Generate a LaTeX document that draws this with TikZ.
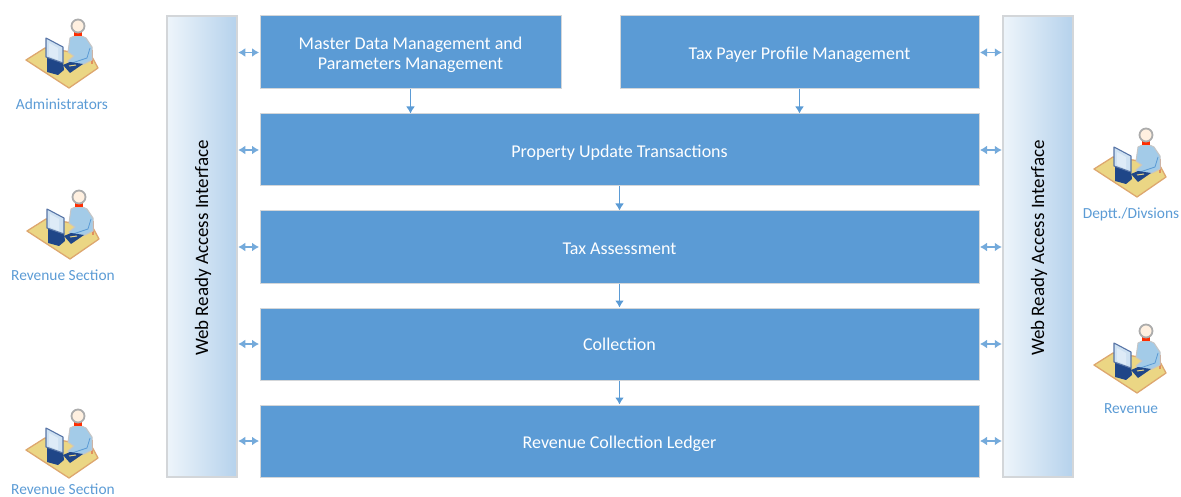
\documentclass[tikz,border=0pt]{standalone}
\usepackage{fontspec}
\setmainfont{Carlito}
\usetikzlibrary{arrows.meta,calc}
\definecolor{boxblue}{HTML}{5B9BD5}
\definecolor{edgegrey}{HTML}{D3D6D9}
\definecolor{darkmon}{HTML}{1F4688}
\definecolor{desktop}{HTML}{EBD684}
\definecolor{deskrim}{HTML}{DDA76F}
\definecolor{shirt}{HTML}{A3CBE8}
\tikzset{
  x=1pt,y=-1pt,
  modbox/.style={fill=boxblue,draw=edgegrey,line width=1pt,inner sep=0pt,text=white,align=center,font=\fontsize{18}{22.5}\selectfont},
  sidepanel/.style={draw=edgegrey,line width=1.5pt,left color=white!85!boxblue!70,right color=boxblue!45,shading angle=90,inner sep=0pt},
  sidetext/.style={rotate=90,font=\fontsize{19}{22}\selectfont,text=black,inner sep=0pt},
  who/.style={text=boxblue,font=\fontsize{15.4}{18}\selectfont,inner sep=0pt},
  both/.style={{Latex[length=7pt,width=9pt]}-{Latex[length=7pt,width=9pt]},draw=boxblue!85!white,line width=1.5pt,shorten >=0.5pt,shorten <=0.5pt},
  down/.style={-{Latex[length=7pt,width=9pt]},draw=boxblue,line width=1.5pt},
  operator/.pic={
    % desk
    \fill[fill=desktop,draw=deskrim,line width=1.3pt,line join=round] (-52,34) -- (-33,22) -- (13,29) -- (20,42) -- (-9,62) -- cycle;
    % chair
    \draw[deskrim!85!red,line width=1.5pt] (14,24) -- (14,38);
    % body
    \fill[fill=shirt,draw=gray!45,line width=1pt,line join=round] (-8,12) .. controls (-4,9) and (4,9) .. (8,12) -- (14,21) -- (14,34) -- (6,38) -- (-6,40) -- (-10,35) -- (-4,30) -- (-10,26) -- cycle;
    \draw[boxblue,line width=.8pt] (12,22) -- (9,32) -- (-6,37);
    % keyboard
    \fill[fill=darkmon,line join=round] (-15,39) -- (-8,36) -- (5,38) -- (-8,47) -- cycle;
    \draw[desktop,line width=1pt] (-9,40) -- (-2,39);
    % monitor
    \fill[fill=darkmon] (-31,30) -- (-15,35) -- (-14,44) -- (-20,49) -- (-31,46) -- cycle;
    \fill[fill=boxblue!30!white,draw=darkmon!75,line width=1.1pt,line join=round] (-32,12) -- (-15,21) -- (-15,37) -- (-32,31) -- cycle;
    \fill[white!80!boxblue] (-29,17) -- (-20,22) -- (-20,34) -- (-29,30) -- cycle;
    % head
    \fill[fill=red!65!orange] (-4,5) rectangle (4,10);
    \fill[fill=white!88!orange,draw=gray!65,line width=1.8pt] (0,0) circle (6.5);
  }
}
\newcommand{\lowered}[2]{\raisebox{-#1pt}[\height][\depth]{#2}}
\begin{document}
\begin{tikzpicture}
\useasboundingbox (0,0) rectangle (1181,497);
\clip (0,0) rectangle (1181,497);

\node[sidepanel,minimum width=70pt,minimum height=461pt] (sl) at (202,246.5) {};
\node[sidepanel,minimum width=70pt,minimum height=461pt] (sr) at (1038,246.5) {};
\node[sidetext] (slt) at (203,248) {Web Ready Access Interface};
\node[sidetext] (srt) at (1039,248) {Web Ready Access Interface};

\node[modbox,minimum width=301pt,minimum height=73pt] (master) at (410.5,52.5) {\lowered{2}{\shortstack{Master Data Management and\\[2pt]Parameters Management}}};
\node[modbox,minimum width=359pt,minimum height=73pt] (payer) at (799.5,52.5) {\lowered{2}{Tax Payer Profile Management}};
\node[modbox,minimum width=719pt,minimum height=72pt] (prop) at (619.5,150) {\lowered{2.5}{Property Update Transactions}};
\node[modbox,minimum width=719pt,minimum height=72pt] (tax) at (619.5,247) {\lowered{1.5}{Tax Assessment}};
\node[modbox,minimum width=719pt,minimum height=72pt] (coll) at (619.5,344) {Collection};
\node[modbox,minimum width=719pt,minimum height=72pt] (ledg) at (619.5,441) {\lowered{3}{Revenue Collection Ledger}};

\draw[both] (master.west -| sl.east) -- (master.west);
\draw[both] (prop.west -| sl.east) -- (prop.west);
\draw[both] (tax.west -| sl.east) -- (tax.west);
\draw[both] (coll.west -| sl.east) -- (coll.west);
\draw[both] (ledg.west -| sl.east) -- (ledg.west);
\draw[both] (payer.east) -- (payer.east -| sr.west);
\draw[both] (prop.east) -- (prop.east -| sr.west);
\draw[both] (tax.east) -- (tax.east -| sr.west);
\draw[both] (coll.east) -- (coll.east -| sr.west);
\draw[both] (ledg.east) -- (ledg.east -| sr.west);

\draw[down] (master.south) -- (master.south |- prop.north);
\draw[down] (payer.south) -- (payer.south |- prop.north);
\draw[down] (prop.south) -- (tax.north);
\draw[down] (tax.south) -- (coll.north);
\draw[down] (coll.south) -- (ledg.north);

\pic at (78,26) {operator};
\pic at (79,197) {operator};
\pic at (78,416) {operator};
\pic at (1146,135) {operator};
\pic at (1146,331) {operator};

\node[who] (w1) at (62,104) {Administrators};
\node[who] (w2) at (63,275) {Revenue Section};
\node[who] (w3) at (63,489) {Revenue Section};
\node[who] (w4) at (1131,214) {Deptt./Divsions};
\node[who] (w5) at (1131,409) {Revenue};
\end{tikzpicture}
\end{document}
